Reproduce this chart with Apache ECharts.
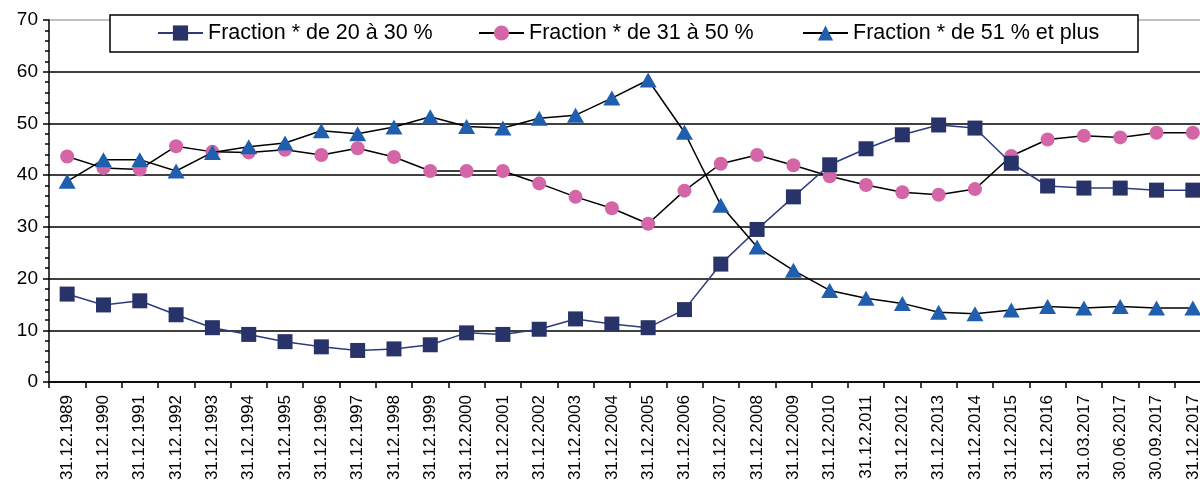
<!DOCTYPE html>
<html>
<head>
<meta charset="utf-8">
<script src="https://cdn.jsdelivr.net/npm/echarts@6/dist/echarts.min.js"></script>
<style>
html,body{margin:0;padding:0;background:#fff;overflow:hidden;width:1200px;height:488px;}
#chart{width:1211px;height:488px;}
</style>
</head>
<body>
<div id="chart"></div>
<script>
const categories = ['31.12.1989','31.12.1990','31.12.1991','31.12.1992','31.12.1993','31.12.1994','31.12.1995','31.12.1996','31.12.1997','31.12.1998','31.12.1999','31.12.2000','31.12.2001','31.12.2002','31.12.2003','31.12.2004','31.12.2005','31.12.2006','31.12.2007','31.12.2008','31.12.2009','31.12.2010','31.12.2011','31.12.2012','31.12.2013','31.12.2014','31.12.2015','31.12.2016','31.03.2017','30.06.2017','30.09.2017','31.12.2017'];
const seriesNames = ['Fraction * de 20 à 30 %','Fraction * de 31 à 50 %','Fraction * de 51 % et plus'];
const frac20_30 = [17.0,14.9,15.7,13.0,10.5,9.2,7.8,6.8,6.1,6.4,7.2,9.5,9.2,10.2,12.2,11.2,10.5,14.0,22.8,29.5,35.8,42.0,45.1,47.8,49.7,49.1,42.3,37.9,37.5,37.5,37.1,37.1];
const frac31_50 = [43.6,41.4,41.1,45.6,44.5,44.4,44.9,43.9,45.2,43.5,40.8,40.8,40.8,38.4,35.8,33.6,30.6,37.0,42.2,43.9,41.9,39.8,38.1,36.7,36.2,37.3,43.7,46.9,47.6,47.3,48.2,48.2];
const frac51plus = [38.8,43.0,43.0,40.8,44.4,45.5,46.2,48.6,48.0,49.3,51.3,49.4,49.1,51.0,51.6,54.9,58.4,48.3,34.2,26.1,21.6,17.7,16.2,15.2,13.5,13.2,13.9,14.6,14.3,14.6,14.3,14.3];
const yTicks = {min:0, max:70, interval:10};

const font = '"Liberation Sans", Arial, sans-serif';
const chart = echarts.init(document.getElementById('chart'), null, {renderer:'canvas'});

function legendFor(name, left) {
  return {
    show:true, data:[name], left:left, top:22, itemWidth:45, itemHeight:19, itemGap:0,
    padding:0, selectedMode:false, z:20,
    textStyle:{fontFamily:font, fontSize:21.5, color:'#000'}
  };
}

chart.setOption({
  animation:false,
  backgroundColor:'#fff',
  graphic:[{
    type:'rect', shape:{x:110, y:15, width:1028, height:37},
    style:{fill:'#fff', stroke:'#000', lineWidth:1.5}, z:10
  }],
  legend:[legendFor(seriesNames[0],157), legendFor(seriesNames[1],478), legendFor(seriesNames[2],802)],
  grid:{left:49, right:0, top:20, bottom:106, containLabel:false},
  xAxis:{
    type:'category', data:categories, boundaryGap:true,
    axisLine:{lineStyle:{color:'#000', width:1.5}},
    axisTick:{show:true, length:6, lineStyle:{color:'#000', width:1.5}},
    axisLabel:{rotate:90, fontFamily:font, fontSize:17, color:'#000', margin:13, interval:0}
  },
  yAxis:{
    type:'value', min:yTicks.min, max:yTicks.max, interval:yTicks.interval,
    axisLine:{show:true, lineStyle:{color:'#000', width:1.5}},
    axisTick:{show:true, inside:false, length:6, lineStyle:{color:'#000', width:1.5}},
    minorTick:{show:true, splitNumber:5, length:4, lineStyle:{color:'#000', width:1.5}},
    axisLabel:{fontFamily:font, fontSize:19, color:'#000', margin:11},
    splitLine:{show:true, lineStyle:{color:['#000','#000','#000','#000','#000','#000','#000','#aaa'], width:1.5}}
  },
  series:[
    {name:seriesNames[0], type:'line', data:frac20_30, symbol:'rect', symbolSize:15,
      itemStyle:{color:'#283469'}, lineStyle:{color:'#2e3a7c', width:1.5}, z:3},
    {name:seriesNames[1], type:'line', data:frac31_50, symbol:'circle', symbolSize:14,
      itemStyle:{color:'#d466a8'}, lineStyle:{color:'#000', width:1.5}, z:2},
    {name:seriesNames[2], type:'line', data:frac51plus, symbol:'triangle', symbolSize:[17,15],
      itemStyle:{color:'#1f5fae'}, lineStyle:{color:'#000', width:1.5}, z:4}
  ]
});
</script>
</body>
</html>
